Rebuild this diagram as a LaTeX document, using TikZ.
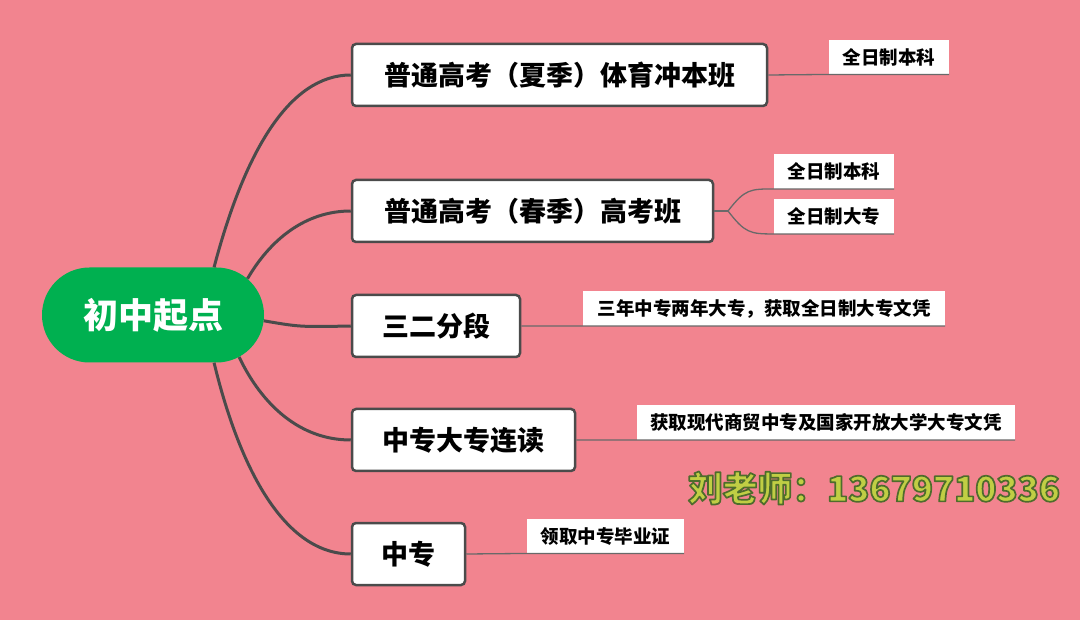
\documentclass[tikz,border=0pt]{standalone}
\usepackage{fontspec}
\setmainfont{Noto Sans CJK SC}
\usetikzlibrary{shapes.misc}
\definecolor{bgpink}{RGB}{242,132,143}
\definecolor{rootgreen}{RGB}{0,176,80}
\definecolor{edgegray}{RGB}{75,75,75}
\definecolor{subgray}{RGB}{105,105,105}
\definecolor{wmfill}{RGB}{192,206,68}
\definecolor{wmdark}{RGB}{78,108,44}
\newcommand{\outlinedtext}[1]{\textcolor{wmfill}{\special{pdf:literal direct 2 Tr 1.8 w 1 j 0.306 0.424 0.173 RG}#1\special{pdf:literal direct 0 Tr}}}
\tikzset{
  rootnode/.style={rounded rectangle, fill=rootgreen, text=white, inner sep=0pt,
    minimum width=222pt, minimum height=95pt, font=\fontsize{35}{40}\selectfont\bfseries},
  branchbox/.style={draw=edgegray, line width=2.5pt, rounded corners=4pt, fill=white,
    inner sep=0pt, minimum height=62pt, font=\fontsize{27}{32}\selectfont\bfseries},
  leafbox/.style={fill=white, inner sep=0pt, minimum height=34.5pt,
    font=\fontsize{18.5}{22}\selectfont\bfseries},
  mainline/.style={draw=edgegray, line width=3pt},
  subline/.style={draw=subgray, line width=1.3pt}
}
\begin{document}
\begin{tikzpicture}[x=1pt,y=-1pt]
\fill[bgpink] (0,0) rectangle (1080,620);
\useasboundingbox (0,0) rectangle (1080,620);

% root
\node[rootnode] (root) at (153,315) {初中起点};

% branches
\node[branchbox, minimum width=415pt] (b1) at (559.5,75) {普通高考（夏季）体育冲本班};
\node[branchbox, minimum width=361pt] (b2) at (532.5,211) {普通高考（春季）高考班};
\node[branchbox, minimum width=168pt] (b3) at (436,326) {三二分段};
\node[branchbox, minimum width=223pt] (b4) at (463.5,440) {中专大专连读};
\node[branchbox, minimum width=113pt] (b5) at (408.5,554) {中专};

% leaves
\node[leafbox, minimum width=120pt] (l1) at (889,57) {全日制本科};
\node[leafbox, minimum width=120pt] (l2a) at (834,171.5) {全日制本科};
\node[leafbox, minimum width=120pt] (l2b) at (834,216.5) {全日制大专};
\node[leafbox, minimum width=362pt] (l3) at (764,308.5) {三年中专两年大专，获取全日制大专文凭};
\node[leafbox, minimum width=378pt] (l4) at (826,422.5) {获取现代商贸中专及国家开放大学大专文凭};
\node[leafbox, minimum width=157pt] (l5) at (605.5,536) {领取中专毕业证};

% main connectors
\draw[mainline] (root.38.7) .. controls (245,150) and (290,75) .. (b1.west);
\draw[mainline] (root.21.9) .. controls (270,240) and (305,211) .. (b2.west);
\draw[mainline] (root.-3) .. controls (300,327) .. (b3.west);
\draw[mainline] (root.-26.8) .. controls (262,405) and (300,440) .. (b4.west);
\draw[mainline] (root.-38.7) .. controls (240,470) and (285,554) .. (b5.west);

% sub connectors
\draw[subline] (b1.east) -- (l1.south west) -- (l1.south east);
\coordinate (f2) at (728,211);
\draw[subline] (b2.east) -- (f2);
\draw[subline] (f2) .. controls (745,189) and (750,189) .. (l2a.south west) -- (l2a.south east);
\draw[subline] (f2) .. controls (745,233) and (750,234) .. (l2b.south west) -- (l2b.south east);
\draw[subline] (b3.east) -- (l3.south west) -- (l3.south east);
\draw[subline] (b4.east) -- (l4.south west) -- (l4.south east);
\draw[subline] (b5.east) -- (l5.south west) -- (l5.south east);

% watermark
\node[inner sep=0pt] (wm) at (874,488) {\resizebox{372pt}{!}{\fontsize{37}{40}\selectfont\bfseries\outlinedtext{刘老师：13679710336}}};
\end{tikzpicture}
\end{document}
